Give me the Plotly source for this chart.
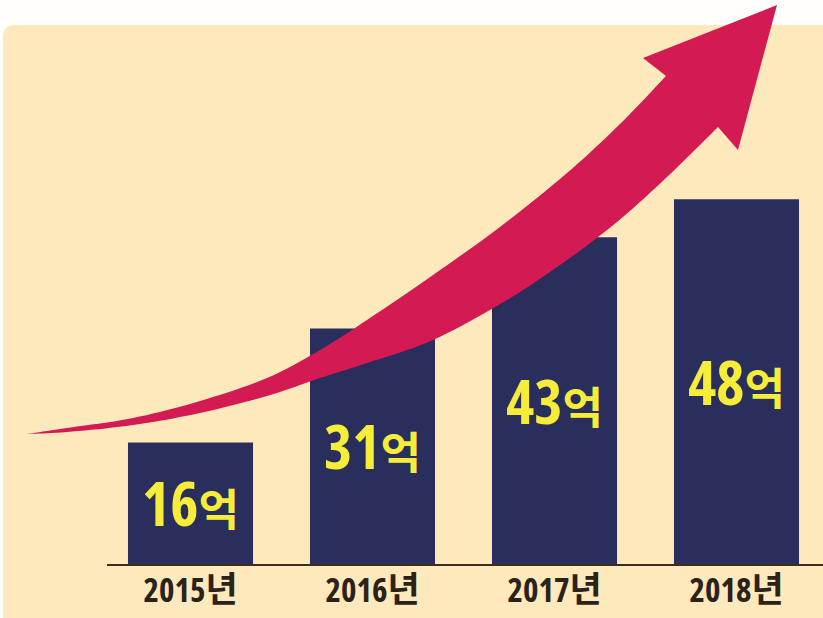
import plotly.graph_objects as go

# ---- data ----
years = ["2015년", "2016년", "2017년", "2018년"]
values = [16, 31, 43, 48]          # 단위: 억
unit = "억"

# ---- geometry helpers (decoration only) ----
W, H = 823, 618
ML, MB = 107, 54
PW, PH = W - ML, H - MB


def X(px):
    return (px - ML) / PW


def Y(py):
    return (H - MB - py) / PH


def smooth(pts, n=10):
    out = []
    for i in range(len(pts) - 1):
        p0 = pts[max(i - 1, 0)]
        p1 = pts[i]
        p2 = pts[i + 1]
        p3 = pts[min(i + 2, len(pts) - 1)]
        for k in range(n):
            t = k / n
            t2, t3 = t * t, t * t * t
            out.append(tuple(
                0.5 * (2 * p1[j] + (-p0[j] + p2[j]) * t
                       + (2 * p0[j] - 5 * p1[j] + 4 * p2[j] - p3[j]) * t2
                       + (-p0[j] + 3 * p1[j] - 3 * p2[j] + p3[j]) * t3)
                for j in range(2)))
    out.append(pts[-1])
    return out


def path(points, close=True):
    s = "M {:.5f},{:.5f}".format(X(points[0][0]), Y(points[0][1]))
    for p in points[1:]:
        s += " L {:.5f},{:.5f}".format(X(p[0]), Y(p[1]))
    return s + (" Z" if close else "")


# arrow outline (decorative)
upper = [(27, 434), (67, 428), (133, 418), (200, 401), (267, 378), (320, 350),
         (367, 320), (433, 275), (500, 227), (567, 173), (620, 124), (666, 76)]
head = [(643, 58), (777, 5), (738, 150)]
lower = [(718, 127), (667, 177), (617, 222), (567, 260), (507, 300), (433, 340),
         (367, 363), (320, 378), (267, 396), (200, 413), (133, 425), (67, 432), (27, 434)]
arrow_pts = smooth(upper) + head + smooth(lower)

panel = ("M {x0},{yb} L {x0},{y1} Q {x0},{yt} {x2},{yt} L {xr},{yt} L {xr},{yb} Z"
         .format(x0=X(3), yb=Y(620), y1=Y(37), yt=Y(25), x2=X(15), xr=X(825)))

labels = ["<span style='font-family:Open Sans;font-stretch:condensed'>{}</span>"
          "<span style='font-size:44px;font-family:Noto Sans CJK KR'>{}</span>".format(v, unit)
          for v in values]
ticktext = ["<span style='font-family:Open Sans;font-stretch:semi-condensed'>{}</span>"
            "<span style='font-size:35px;font-family:Noto Sans CJK KR'>{}</span>".format(y[:-1], y[-1])
            for y in years]

fig = go.Figure(go.Bar(
    x=years, y=values,
    marker=dict(color="#2a2e5c", line=dict(width=0)),
    text=labels,
    textposition="inside",
    insidetextanchor="middle",
    textangle=0,
    textfont=dict(family="Open Sans, Noto Sans, Noto Sans CJK KR",
                  size=60, color="#f6ec3a", weight="bold"),
    hoverinfo="skip",
))

px_per_unit = 7.6
fig.update_layout(
    width=W, height=H,
    margin=dict(l=ML, r=0, t=0, b=MB, pad=0),
    paper_bgcolor="#fffefa",
    plot_bgcolor="rgba(0,0,0,0)",
    bargap=0.313,
    showlegend=False,
    xaxis=dict(
        type="category",
        range=[-83.5 / 182, -83.5 / 182 + PW / 182],
        tickvals=years, ticktext=ticktext,
        showline=True, linecolor="#3b2c1c", linewidth=2,
        ticks="", showgrid=False, zeroline=False,
        ticklabelstandoff=-4,
        tickfont=dict(family="Open Sans, Noto Sans, Noto Sans CJK KR",
                      size=33, color="#2b2219", weight="bold"),
        fixedrange=True,
    ),
    yaxis=dict(range=[0, PH / px_per_unit], visible=False, fixedrange=True),
    shapes=[
        dict(type="path", xref="paper", yref="paper", path=panel,
             fillcolor="#fde9bb", line=dict(width=0), layer="below"),
        dict(type="path", xref="paper", yref="paper", path=path(arrow_pts),
             fillcolor="#d31a53", line=dict(width=0), layer="above"),
    ],
)

fig.write_html("out.html", config={"displayModeBar": False},
               post_script="document.body.style.margin='0';")
